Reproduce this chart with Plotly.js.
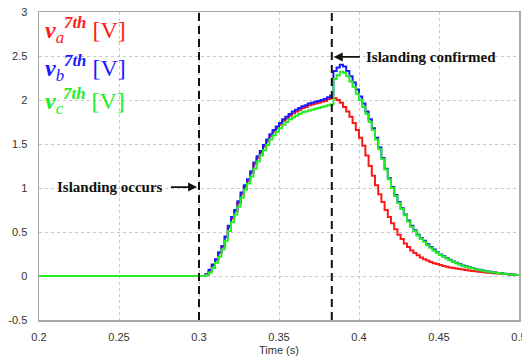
<!DOCTYPE html>
<html>
<head>
<meta charset="utf-8">
<script src="https://cdn.plot.ly/plotly-3.0.1.min.js"></script>
<style>html,body{margin:0;padding:0;background:#fff;}#chart{width:522px;height:357px;}</style>
</head>
<body>
<div id="chart"></div>
<script>
// Sample times (s)
const time = [0.200,
0.300,0.302,0.304,0.306,0.308,0.310,0.312,0.314,0.316,0.318,
0.320,0.322,0.324,0.326,0.328,0.330,0.332,0.334,0.336,0.338,
0.340,0.342,0.344,0.346,0.348,0.350,0.352,0.354,0.356,0.358,
0.360,0.362,0.364,0.366,0.368,0.370,0.372,0.374,0.376,0.378,
0.380,0.382,0.384,0.386,0.388,0.390,0.392,0.394,0.396,0.398,
0.400,0.402,0.404,0.406,0.408,0.410,0.412,0.414,0.416,0.418,
0.420,0.422,0.424,0.426,0.428,0.430,0.432,0.434,0.436,0.438,
0.440,0.442,0.444,0.446,0.448,0.450,0.452,0.454,0.456,0.458,
0.460,0.462,0.464,0.466,0.468,0.470,0.472,0.474,0.476,0.478,
0.480,0.482,0.484,0.486,0.488,0.490,0.492,0.494,0.496,0.498,
0.500];

// 7th harmonic voltage, phase a [V]
const va = [0,
0,0,0.02,0.06,0.12,0.18,0.26,0.33,0.44,0.55,
0.65,0.74,0.83,0.93,1.01,1.08,1.17,1.27,1.34,1.40,
1.47,1.53,1.59,1.64,1.68,1.72,1.76,1.79,1.82,1.85,
1.87,1.89,1.91,1.92,1.94,1.95,1.96,1.97,1.98,1.99,
2.01,2.02,2.02,2.00,1.97,1.92,1.87,1.81,1.74,1.66,
1.57,1.48,1.37,1.25,1.14,1.03,0.93,0.84,0.75,0.67,
0.60,0.53,0.47,0.42,0.37,0.33,0.29,0.26,0.235,0.21,
0.19,0.175,0.16,0.145,0.135,0.125,0.115,0.106,0.098,0.091,
0.085,0.079,0.073,0.068,0.063,0.058,0.053,0.049,0.045,0.041,
0.038,0.035,0.032,0.029,0.026,0.023,0.02,0.017,0.014,0.012,
0.01];

// 7th harmonic voltage, phase b [V]
const vb = [0,
0,0,0.02,0.07,0.13,0.19,0.27,0.34,0.45,0.57,
0.67,0.75,0.85,0.95,1.03,1.10,1.19,1.29,1.36,1.42,
1.49,1.55,1.61,1.66,1.70,1.74,1.78,1.81,1.84,1.87,
1.89,1.91,1.93,1.94,1.96,1.97,1.98,1.99,2.00,2.01,
2.03,2.05,2.33,2.37,2.40,2.38,2.33,2.27,2.20,2.12,
2.04,1.96,1.87,1.78,1.68,1.57,1.46,1.34,1.22,1.11,
1.01,0.92,0.84,0.77,0.70,0.63,0.57,0.52,0.47,0.43,
0.40,0.36,0.33,0.30,0.27,0.245,0.225,0.205,0.185,0.165,
0.15,0.135,0.12,0.11,0.10,0.09,0.08,0.072,0.064,0.057,
0.05,0.045,0.04,0.035,0.03,0.026,0.022,0.018,0.015,0.012,
0.01];

// 7th harmonic voltage, phase c [V]
const vc = [0,
0,0,0.01,0.04,0.09,0.15,0.22,0.30,0.40,0.51,
0.61,0.70,0.79,0.89,0.98,1.05,1.13,1.22,1.30,1.37,
1.43,1.49,1.55,1.60,1.64,1.68,1.72,1.75,1.78,1.80,
1.82,1.84,1.86,1.87,1.88,1.89,1.90,1.91,1.92,1.93,
1.94,1.95,2.24,2.28,2.32,2.31,2.27,2.21,2.15,2.07,
2.00,1.92,1.84,1.75,1.66,1.55,1.44,1.33,1.21,1.10,
1.00,0.91,0.83,0.76,0.69,0.62,0.56,0.51,0.46,0.42,
0.39,0.35,0.32,0.29,0.265,0.24,0.22,0.20,0.18,0.16,
0.145,0.13,0.117,0.106,0.096,0.087,0.078,0.07,0.062,0.055,
0.049,0.044,0.039,0.034,0.029,0.025,0.021,0.018,0.015,0.012,
0.01];

// Event times (s) and annotation texts
const eventTimes = [0.300, 0.383];
const eventLabels = ["Islanding occurs", "Islanding confirmed"];
const xTicks = [0.2, 0.25, 0.3, 0.35, 0.4, 0.45, 0.5];
const xTickText = ["0.2", "0.25", "0.3", "0.35", "0.4", "0.45", "0.5"];
const yTicks = [-0.5, 0, 0.5, 1, 1.5, 2, 2.5, 3];
const yTickText = ["-0.5", "0", "0.5", "1", "1.5", "2", "2.5", "3"];
const seriesNames = ["a", "b", "c"];
const seriesColors = ["#ff1a1a", "#1a1aff", "#22ee22"];

const traces = [va, vb, vc].map((v, i) => ({
  x: time, y: v, type: "scatter", mode: "lines",
  line: {color: seriesColors[i], width: 2, shape: "hv"},
  name: "v" + seriesNames[i], showlegend: false, hoverinfo: "skip"
}));

const shapes = eventTimes.map(t => ({
  type: "line", xref: "x", yref: "paper", x0: t, x1: t, y0: 0, y1: 1,
  line: {color: "#111", width: 2, dash: "8px,5px"}
}));

const serif = "Liberation Serif, Times New Roman, serif";
const annFont = {family: serif, size: 15, color: "#111"};
const annotations = [];
// legend-like labels
const legY = [0.943, 0.817, 0.71];
seriesNames.forEach((s, i) => {
  annotations.push({
    xref: "paper", yref: "paper", x: 0.008, y: legY[i], xanchor: "left", yanchor: "middle",
    showarrow: false,
    text: "<b><i>v</i></b><sub><i>" + s + "</i></sub><sup><b><i>7th</i></b></sup> [V]",
    font: {family: serif, size: 24, color: seriesColors[i]}
  });
});
// Islanding occurs
annotations.push({xref: "x", yref: "y", x: 0.2444, y: 1.01, text: "<b>" + eventLabels[0] + "</b>",
  showarrow: false, font: annFont});
annotations.push({xref: "x", yref: "y", axref: "x", ayref: "y", x: eventTimes[0] - 0.0012, y: 1.01,
  ax: 0.2815, ay: 1.01, text: "", showarrow: true, arrowhead: 2, arrowsize: 1, arrowwidth: 1.8, arrowcolor: "#111"});
// Islanding confirmed
annotations.push({xref: "x", yref: "y", x: 0.4447, y: 2.49, text: "<b>" + eventLabels[1] + "</b>",
  showarrow: false, font: annFont});
annotations.push({xref: "x", yref: "y", axref: "x", ayref: "y", x: eventTimes[1] + 0.0012, y: 2.49,
  ax: 0.4015, ay: 2.49, text: "", showarrow: true, arrowhead: 2, arrowsize: 1, arrowwidth: 1.8, arrowcolor: "#111"});

const axisCommon = {
  showline: true, mirror: true, linecolor: "#a8a8a8", linewidth: 1.5,
  showgrid: true, gridcolor: "#c8c8c8", griddash: "dot", gridwidth: 1,
  zeroline: false, ticks: "outside", ticklen: 6, tickcolor: "rgba(0,0,0,0)",
  tickfont: {family: "Liberation Sans, Arial, sans-serif", size: 11, color: "#333"},
  tickmode: "array", ticklabeloverflow: "allow"
};

const layout = {
  width: 522, height: 357,
  margin: {l: 39, r: 3, t: 12, b: 37},
  paper_bgcolor: "#fff", plot_bgcolor: "#fff",
  xaxis: Object.assign({}, axisCommon, {range: [0.2, 0.5], tickvals: xTicks, ticktext: xTickText,
    title: {text: "Time (s)", font: {family: "Liberation Sans, Arial, sans-serif", size: 11, color: "#333"}, standoff: 4}}),
  yaxis: Object.assign({}, axisCommon, {range: [-0.5, 3], tickvals: yTicks, ticktext: yTickText, ticklen: 8}),
  shapes: shapes,
  annotations: annotations,
  showlegend: false
};

Plotly.newPlot("chart", traces, layout, {staticPlot: true, displayModeBar: false});
</script>
</body>
</html>
